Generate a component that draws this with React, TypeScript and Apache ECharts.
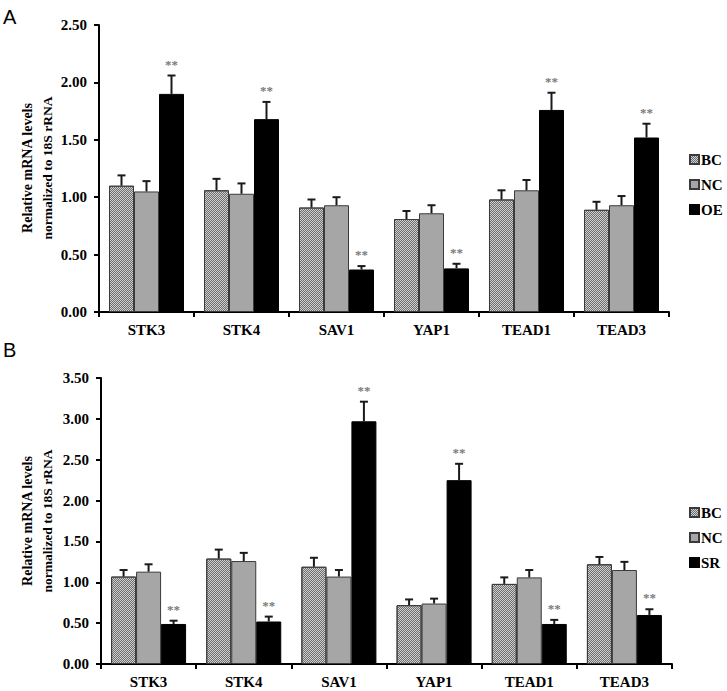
import React, { useEffect, useRef } from "react";
import * as echarts from "echarts";

const categories = ["STK3", "STK4", "SAV1", "YAP1", "TEAD1", "TEAD3"];

// Panel A
const bcA = [1.10, 1.06, 0.91, 0.81, 0.98, 0.89];
const bcAErr = [0.09, 0.10, 0.07, 0.07, 0.08, 0.07];
const ncA = [1.05, 1.03, 0.93, 0.86, 1.06, 0.93];
const ncAErr = [0.09, 0.09, 0.07, 0.07, 0.09, 0.08];
const oeA = [1.90, 1.68, 0.37, 0.38, 1.76, 1.52];
const oeAErr = [0.16, 0.15, 0.03, 0.04, 0.15, 0.12];
const oeAStars = [1, 1, 1, 1, 1, 1];
const yTicksA = { min: 0, max: 2.5, interval: 0.5 };

// Panel B
const bcB = [1.07, 1.29, 1.19, 0.72, 0.98, 1.22];
const bcBErr = [0.08, 0.11, 0.11, 0.07, 0.08, 0.09];
const ncB = [1.13, 1.26, 1.07, 0.74, 1.06, 1.15];
const ncBErr = [0.09, 0.10, 0.08, 0.06, 0.09, 0.10];
const srB = [0.49, 0.52, 2.97, 2.25, 0.49, 0.60];
const srBErr = [0.04, 0.06, 0.24, 0.20, 0.05, 0.07];
const srBStars = [1, 1, 1, 1, 1, 1];
const yTicksB = { min: 0, max: 3.5, interval: 0.5 };

const SERIF = "Liberation Serif";
const BAR_W = 25;

const bcDecal = {
  symbol: "rect",
  symbolSize: 1,
  dashArrayX: [[1, 1], [0, 1, 1, 0]],
  dashArrayY: [1, 0],
  color: "#6e6e6e",
};

function barSeries(name: string, data: number[], k: number, grid: number) {
  const colors = ["#cfcfcf", "#a6a6a6", "#000000"];
  return {
    type: "bar",
    name,
    xAxisIndex: grid,
    yAxisIndex: grid,
    data,
    barWidth: BAR_W,
    barGap: "0%",
    itemStyle: {
      color: colors[k],
      borderColor: k === 2 ? "#000" : "#3a3a3a",
      borderWidth: 1,
      decal: k === 0 ? bcDecal : undefined,
    },
    z: 2,
  };
}

function errSeries(vals: number[], errs: number[], stars: number[] | null, k: number, grid: number) {
  return {
    type: "custom",
    xAxisIndex: grid,
    yAxisIndex: grid,
    z: 5,
    silent: true,
    data: vals.map((v, i) => [i, v, errs[i], stars ? stars[i] : 0]),
    renderItem: (params: any, api: any) => {
      const i = api.value(0);
      const v = api.value(1);
      const e = api.value(2);
      const s = api.value(3);
      const p = api.coord([i, v]);
      const t = api.coord([i, v + e]);
      const x = p[0] + (k - 1) * BAR_W;
      const children: any[] = [
        {
          type: "line",
          shape: { x1: x, y1: p[1], x2: x, y2: t[1] },
          style: { stroke: "#1a1a1a", lineWidth: 2 },
        },
        {
          type: "line",
          shape: { x1: x - 4, y1: t[1], x2: x + 4, y2: t[1] },
          style: { stroke: "#1a1a1a", lineWidth: 2 },
        },
      ];
      if (s) {
        children.push({
          type: "text",
          x,
          y: t[1] - 5,
          style: {
            text: "**",
            fill: "#7a7a7a",
            fontFamily: SERIF,
            fontWeight: "bold",
            fontSize: 13,
            align: "center",
            verticalAlign: "bottom",
          },
        });
      }
      return { type: "group", children };
    },
  };
}

function xAxis(grid: number) {
  return {
    type: "category",
    gridIndex: grid,
    data: categories,
    axisLine: { lineStyle: { color: "#000", width: 2 } },
    axisTick: { show: true, alignWithLabel: false, length: 5, lineStyle: { color: "#000", width: 2 } },
    axisLabel: { color: "#000", fontFamily: SERIF, fontWeight: "bold", fontSize: 15, margin: 10 },
  };
}

function yAxis(grid: number, t: { min: number; max: number; interval: number }) {
  return {
    type: "value",
    gridIndex: grid,
    min: t.min,
    max: t.max,
    interval: t.interval,
    splitLine: { show: false },
    axisLine: { show: true, lineStyle: { color: "#000", width: 2 } },
    axisTick: { show: true, length: 5, lineStyle: { color: "#000", width: 2 } },
    axisLabel: {
      color: "#000",
      fontFamily: SERIF,
      fontWeight: "bold",
      fontSize: 15,
      margin: 12,
      formatter: (v: number) => v.toFixed(2),
    },
  };
}

function legend(names: string[], top: number) {
  return {
    data: names,
    orient: "vertical",
    left: 684,
    top,
    itemWidth: 9,
    itemHeight: 9,
    itemGap: 10,
    selectedMode: false,
    icon: "rect",
    textStyle: { color: "#000", fontFamily: SERIF, fontWeight: "bold", fontSize: 15, padding: [0, 0, 0, -3] },
  };
}

function yTitle(cy: number) {
  return [
    {
      type: "text",
      x: 27,
      y: cy,
      rotation: Math.PI / 2,
      style: {
        text: "Relative mRNA levels",
        fontFamily: SERIF,
        fontWeight: "bold",
        fontSize: 14,
        fill: "#000",
        align: "center",
        verticalAlign: "middle",
      },
    },
    {
      type: "text",
      x: 47,
      y: cy,
      rotation: Math.PI / 2,
      style: {
        text: "normalized to 18S rRNA",
        fontFamily: SERIF,
        fontWeight: "bold",
        fontSize: 13.5,
        fill: "#000",
        align: "center",
        verticalAlign: "middle",
      },
    },
  ];
}

export default function App() {
  const ref = useRef<HTMLDivElement>(null);
  useEffect(() => {
    if (!ref.current) return;
    const chart = echarts.init(ref.current, null, { renderer: "svg" });
    chart.setOption({
      animation: false,
      backgroundColor: "#fff",
      textStyle: { fontFamily: SERIF },
      grid: [
        { left: 99, top: 25, width: 570, height: 287 },
        { left: 101, top: 378, width: 571, height: 286 },
      ],
      xAxis: [xAxis(0), xAxis(1)],
      yAxis: [yAxis(0, yTicksA), yAxis(1, yTicksB)],
      legend: [legend(["BC", "NC", "OE"], 147), legend(["BC", "NC", "SR"], 500)],
      graphic: [
        {
          type: "text",
          left: 3,
          top: 7,
          style: { text: "A", fontFamily: "Liberation Sans", fontSize: 20, fill: "#000" },
        },
        {
          type: "text",
          left: 3,
          top: 340,
          style: { text: "B", fontFamily: "Liberation Sans", fontSize: 20, fill: "#000" },
        },
        ...yTitle(168),
        ...yTitle(521),
      ],
      series: [
        barSeries("BC", bcA, 0, 0),
        barSeries("NC", ncA, 1, 0),
        barSeries("OE", oeA, 2, 0),
        errSeries(bcA, bcAErr, null, 0, 0),
        errSeries(ncA, ncAErr, null, 1, 0),
        errSeries(oeA, oeAErr, oeAStars, 2, 0),
        barSeries("BC", bcB, 0, 1),
        barSeries("NC", ncB, 1, 1),
        barSeries("SR", srB, 2, 1),
        errSeries(bcB, bcBErr, null, 0, 1),
        errSeries(ncB, ncBErr, null, 1, 1),
        errSeries(srB, srBErr, srBStars, 2, 1),
      ],
    });
    return () => chart.dispose();
  }, []);
  return (
    <div
      ref={ref}
      style={{ position: "fixed", left: 0, top: 0, width: 727, height: 691, background: "#fff" }}
    />
  );
}
